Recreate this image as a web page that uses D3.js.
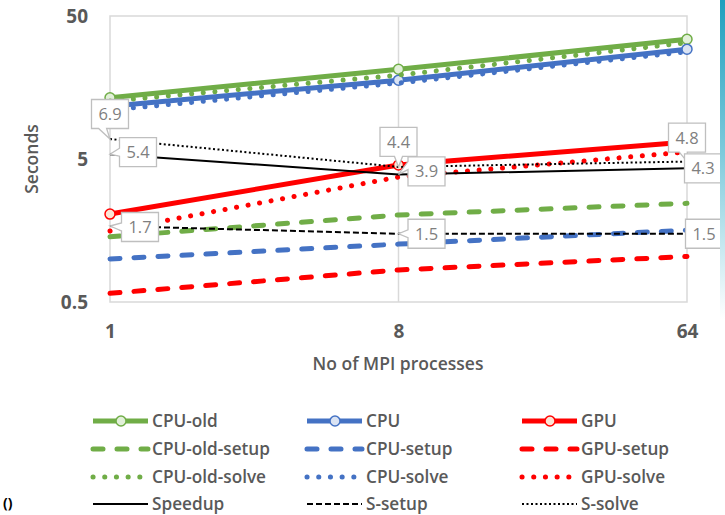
<!DOCTYPE html>
<html><head><meta charset="utf-8">
<script src="https://cdn.jsdelivr.net/npm/d3@7/dist/d3.min.js"></script>
<style>body{margin:0;background:#fff}svg{display:block}</style>
</head><body>
<script>
// ---- data ----
const categories = ["1", "8", "64"];
const cpuOld      = [13.4, 21.2, 34.4];
const cpu         = [11.7, 17.8, 29.3];
const gpu         = [2.06, 4.54, 6.58];
const cpuOldSetup = [1.43, 2.03, 2.45];
const cpuSetup    = [1.0, 1.27, 1.59];
const gpuSetup    = [0.575, 0.838, 1.04];
const cpuOldSolve = [12.7, 19.3, 32.5];
const cpuSolve    = [11.0, 17.0, 28.1];
const gpuSolve    = [1.57, 3.74, 5.6];
const speedup     = [5.4, 3.9, 4.3];
const sSetup      = [1.7, 1.5, 1.5];
const sSolve      = [6.9, 4.4, 4.8];
const yTicks      = [0.5, 5, 50];
const seriesNames = ["CPU-old","CPU","GPU","CPU-old-setup","CPU-setup","GPU-setup",
                     "CPU-old-solve","CPU-solve","GPU-solve","Speedup","S-setup","S-solve"];

const W = 725, H = 515;
const FONT = "'Open Sans', Lato, sans-serif";
const GRAY = "#595959";
const green = "#70AD47", blue = "#4472C4", red = "#FF0000";

const svg = d3.select("body").append("svg").attr("width", W).attr("height", H);

// gradient strip on right
const defs = svg.append("defs");
const lg = defs.append("linearGradient").attr("id","strip").attr("x1",0).attr("y1",0).attr("x2",0).attr("y2",1);
lg.append("stop").attr("offset","0").attr("stop-color","#1f9fbd");
lg.append("stop").attr("offset","0.3").attr("stop-color","#7fcbdc");
lg.append("stop").attr("offset","0.62").attr("stop-color","#ffffff");
lg.append("stop").attr("offset","1").attr("stop-color","#ffffff");

const x = d3.scalePoint().domain(categories).range([110, 687]);
const y = d3.scaleLog().domain([0.5, 50]).range([302, 16]);

// plot frame & grid
const g = svg.append("g");
g.append("rect").attr("x", 110).attr("y", 16).attr("width", 577).attr("height", 286)
  .attr("fill", "none").attr("stroke", "#d9d9d9").attr("stroke-width", 1.5);
g.selectAll(".vg").data(categories.slice(1, -1)).join("line")
  .attr("x1", d => x(d)).attr("x2", d => x(d)).attr("y1", 16).attr("y2", 302)
  .attr("stroke", "#d9d9d9").attr("stroke-width", 1.5);

// axes (text only)
const yAxis = d3.axisLeft(y).tickValues(yTicks).tickFormat(d3.format("")).tickSize(0).tickPadding(22);
const ya = svg.append("g").attr("transform", "translate(110,0)").call(yAxis);
ya.select(".domain").remove();
ya.selectAll("text").attr("font-family", FONT).attr("font-size", 19).attr("font-weight", 700).attr("fill", GRAY);

const xAxis = d3.axisBottom(x).tickSize(0).tickPadding(23);
const xa = svg.append("g").attr("transform", "translate(0,302)").call(xAxis);
xa.select(".domain").remove();
xa.selectAll("text").attr("font-family", FONT).attr("font-size", 19).attr("font-weight", 700).attr("fill", GRAY);

svg.append("text").attr("transform", "translate(38,159) rotate(-90)").attr("text-anchor", "middle")
  .attr("font-family", FONT).attr("font-size", 17.5).attr("font-weight", 600).attr("fill", GRAY).text("Seconds");
svg.append("text").attr("x", 398).attr("y", 370).attr("text-anchor", "middle")
  .attr("font-family", FONT).attr("font-size", 17.5).attr("font-weight", 600).attr("fill", GRAY).text("No of MPI processes");

// series styles
const styles = [
  {c: green, w: 5, dash: null, marker: "#e2f0d9"},
  {c: blue,  w: 5, dash: null, marker: "#dae3f3"},
  {c: red,   w: 5, dash: null, marker: "#fbe5d6"},
  {c: green, w: 5, dash: "10,14", cap: "round"},
  {c: blue,  w: 5, dash: "10,14", cap: "round"},
  {c: red,   w: 5, dash: "10,14", cap: "round"},
  {c: green, w: 5, dash: "0.1,11.6", cap: "round"},
  {c: blue,  w: 5, dash: "0.1,11.6", cap: "round"},
  {c: red,   w: 5, dash: "0.1,11.6", cap: "round"},
  {c: "#000", w: 2, dash: null},
  {c: "#000", w: 2, dash: "6,3"},
  {c: "#000", w: 2, dash: "2,2.5"}
];
const values = [cpuOld, cpu, gpu, cpuOldSetup, cpuSetup, gpuSetup, cpuOldSolve, cpuSolve, gpuSolve, speedup, sSetup, sSolve];

const line = d3.line().x((d, i) => x(categories[i])).y(d => y(d));
const plot = svg.append("g");
values.forEach((vals, si) => {
  const s = styles[si];
  plot.append("path").attr("d", line(vals)).attr("fill", "none")
    .attr("stroke", s.c).attr("stroke-width", s.w)
    .attr("stroke-dasharray", s.dash).attr("stroke-linecap", s.cap || "butt").attr("stroke-linejoin", "round");
  if (s.marker) {
    plot.selectAll(null).data(vals).join("circle")
      .attr("cx", (d, i) => x(categories[i])).attr("cy", d => y(d)).attr("r", 5)
      .attr("fill", s.marker).attr("stroke", s.c).attr("stroke-width", 1.5);
  }
});

// data label callouts: [series values, index, dx, dy, pointer side, wedge base position (0..1)]
const callouts = [
  [sSolve, 0, 0, -25, "bottom", 0.3],
  [speedup, 0, 28, -2, "left", 0.5],
  [sSetup, 0, 30, 1, "left", 0.5],
  [sSolve, 1, 0, -25, "bottom", 0.5],
  [speedup, 1, 28, -3, "left", 0.3],
  [sSetup, 1, 28, 0, "left", 0.5],
  [sSolve, 2, 0, -24, "bottom", 0.4],
  [speedup, 2, 16, 0, "none", 0],
  [sSetup, 2, 17, 0, "none", 0]
];
const cl = svg.append("g");
const bw = 37, bh = 29;
callouts.forEach(([vals, i, dx, dy, side, f]) => {
  const px = x(categories[i]), py = y(vals[i]);
  const cx = px + dx, cy = py + dy;
  const x0 = cx - bw / 2, x1 = cx + bw / 2, y0 = cy - bh / 2, y1 = cy + bh / 2;
  let p;
  if (side === "bottom") {
    const b1 = x0 + f * bw - 4, b2 = b1 + 8;
    p = `M${x0},${y0}H${x1}V${y1}H${b2}L${px},${py}L${b1},${y1}H${x0}Z`;
  } else if (side === "left") {
    const b1 = y0 + f * bh - 4, b2 = b1 + 8;
    p = `M${x0},${y0}H${x1}V${y1}H${x0}V${b2}L${px},${py}L${x0},${b1}Z`;
  } else {
    p = `M${x0},${y0}H${x1}V${y1}H${x0}Z`;
  }
  cl.append("path").attr("d", p).attr("fill", "#fff").attr("stroke", "#bfbfbf").attr("stroke-width", 1.3);
  cl.append("text").attr("x", cx).attr("y", cy + 6).attr("text-anchor", "middle")
    .attr("font-family", FONT).attr("font-size", 16.5).attr("fill", "#7f7f7f").text(d3.format(".1f")(vals[i]));
});

// legend
const lgX = [93, 307, 522], lgY = [421, 449, 477, 504];
const leg = svg.append("g");
seriesNames.forEach((name, si) => {
  const s = styles[si];
  const col = si % 3, row = Math.floor(si / 3);
  const lx = lgX[col], ly = lgY[row];
  leg.append("line").attr("x1", lx).attr("x2", lx + 55).attr("y1", ly).attr("y2", ly)
    .attr("stroke", s.c).attr("stroke-width", s.w).attr("stroke-dasharray", s.dash)
    .attr("stroke-linecap", s.cap || "butt");
  if (s.marker) {
    leg.append("circle").attr("cx", lx + 28).attr("cy", ly).attr("r", 5)
      .attr("fill", s.marker).attr("stroke", s.c).attr("stroke-width", 1.5);
  }
  leg.append("text").attr("x", lx + 59).attr("y", ly + 6)
    .attr("font-family", FONT).attr("font-size", 17.2).attr("font-weight", 600).attr("fill", GRAY).text(name);
});

// strip & corner artifact
svg.append("rect").attr("x", 720).attr("y", 0).attr("width", 5).attr("height", H).attr("fill", "url(#strip)");
svg.append("text").attr("x", 3).attr("y", 508).attr("font-family", FONT).attr("font-size", 14)
  .attr("font-weight", 700).attr("fill", "#000").text("()");
</script>
</body></html>
